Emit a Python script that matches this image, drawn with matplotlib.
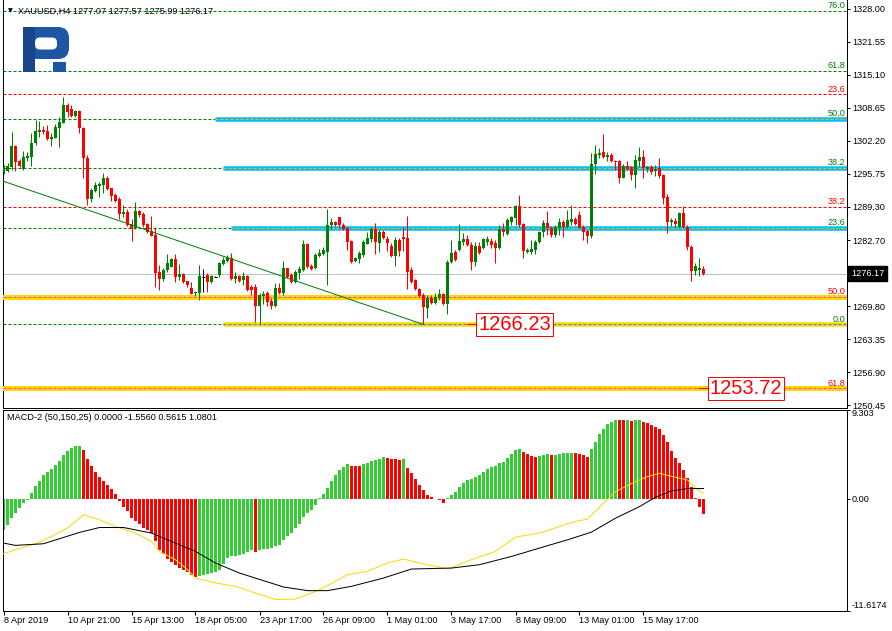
import matplotlib
matplotlib.use("Agg")
import matplotlib.pyplot as plt
import matplotlib.transforms as mtransforms
from matplotlib.patches import Rectangle, FancyBboxPatch
import numpy as np

plt.rcParams['font.family'] = ['Liberation Sans', 'DejaVu Sans']

# ---------------- data ----------------
symbol_header = "XAUUSD,H4 1277.07 1277.57 1275.99 1276.17"
macd_header = "MACD-2 (50,150,25) 0.0000 -1.5560 0.5615 1.0801"

opens = [
    1296.10, 1296.23, 1296.95, 1301.12, 1298.25, 1296.69, 1298.77, 1299.03, 1301.64, 1303.93,
    1304.25, 1303.99, 1302.56, 1302.75, 1304.71, 1305.69, 1309.14, 1308.30, 1307.06, 1307.97,
    1304.58, 1298.71, 1290.75, 1292.25, 1293.29, 1293.49, 1294.86, 1292.90, 1291.53, 1290.75,
    1287.81, 1288.21, 1285.86, 1285.01, 1288.47, 1287.81, 1285.86, 1284.49, 1283.70, 1276.53,
    1275.10, 1276.86, 1277.51, 1279.01, 1275.55, 1276.08, 1274.70, 1273.33, 1272.29, 1272.29,
    1275.55, 1275.88, 1274.51, 1275.55, 1275.81, 1278.03, 1278.62, 1279.21, 1275.16, 1275.68,
    1274.90, 1275.68, 1273.46, 1273.46, 1269.81, 1271.77, 1272.29, 1270.86, 1269.81, 1273.27,
    1272.29, 1277.18, 1275.88, 1274.57, 1276.34, 1276.86, 1281.94, 1277.64, 1277.18, 1279.60,
    1279.99, 1280.44, 1285.66, 1286.31, 1287.16, 1285.66, 1285.01, 1282.53, 1278.62, 1279.01,
    1279.79, 1282.01, 1282.92, 1284.88, 1282.07, 1284.36, 1282.86, 1281.62, 1279.66, 1282.66,
    1283.31, 1283.18, 1276.85, 1274.83, 1273.14, 1271.90, 1269.48, 1271.31, 1270.46, 1271.31,
    1272.16, 1270.20, 1278.36, 1280.44, 1280.70, 1282.40, 1282.92, 1281.75, 1278.36, 1281.62,
    1281.09, 1282.40, 1282.60, 1282.07, 1281.09, 1284.88, 1283.83, 1286.31, 1287.10, 1289.31,
    1285.79, 1280.44, 1280.31, 1280.77, 1282.27, 1284.23, 1285.99, 1285.14, 1283.70, 1285.14,
    1286.31, 1285.33, 1286.31, 1286.84, 1287.62, 1285.33, 1284.49, 1283.57, 1297.53, 1299.36,
    1300.01, 1299.03, 1299.36, 1298.18, 1298.18, 1294.92, 1297.27, 1297.08, 1295.45, 1298.18,
    1299.03, 1296.62, 1297.08, 1296.23, 1296.88, 1295.45, 1291.21, 1286.18, 1286.44, 1285.27,
    1288.01, 1285.33, 1281.42, 1276.72, 1276.85, 1277.07]
highs = [
    1297.40, 1297.86, 1303.86, 1301.25, 1298.51, 1300.08, 1299.95, 1303.60, 1306.21, 1306.08,
    1305.04, 1305.30, 1303.60, 1305.43, 1306.86, 1310.78, 1309.47, 1309.20, 1308.17, 1308.17,
    1304.90, 1299.30, 1292.90, 1294.14, 1294.14, 1295.77, 1295.25, 1293.00, 1291.86, 1291.21,
    1289.58, 1288.86, 1286.90, 1290.10, 1288.60, 1288.14, 1286.12, 1287.42, 1285.34, 1277.83,
    1277.18, 1279.99, 1279.14, 1279.99, 1278.03, 1276.34, 1274.77, 1274.44, 1272.81, 1277.83,
    1277.05, 1276.34, 1275.88, 1275.75, 1278.49, 1279.47, 1279.73, 1280.12, 1276.47, 1275.88,
    1276.53, 1275.88, 1273.92, 1274.05, 1272.29, 1272.81, 1272.68, 1271.38, 1274.25, 1274.25,
    1278.68, 1277.31, 1276.21, 1276.86, 1277.64, 1282.73, 1282.20, 1278.03, 1280.12, 1280.90,
    1281.42, 1288.86, 1286.97, 1286.51, 1287.29, 1285.99, 1285.21, 1282.73, 1279.46, 1280.57,
    1282.73, 1284.36, 1285.33, 1285.99, 1284.68, 1284.62, 1283.51, 1282.07, 1283.38, 1283.05,
    1285.33, 1287.49, 1277.51, 1275.22, 1273.40, 1272.29, 1272.09, 1272.09, 1272.29, 1273.07,
    1272.40, 1278.81, 1282.73, 1280.77, 1285.92, 1284.03, 1283.70, 1282.40, 1282.27, 1282.40,
    1283.05, 1283.57, 1283.05, 1282.73, 1285.66, 1285.99, 1286.97, 1287.49, 1289.57, 1291.53,
    1285.99, 1281.23, 1282.73, 1282.73, 1284.49, 1286.64, 1288.40, 1285.53, 1285.66, 1286.97,
    1286.57, 1288.60, 1289.57, 1287.29, 1288.40, 1285.66, 1284.68, 1299.69, 1301.32, 1300.66,
    1303.47, 1299.88, 1299.69, 1298.38, 1298.38, 1297.53, 1298.18, 1297.27, 1299.36, 1300.93,
    1300.34, 1297.27, 1297.40, 1297.40, 1298.71, 1295.58, 1291.66, 1286.97, 1286.97, 1288.14,
    1289.44, 1285.66, 1281.75, 1278.16, 1279.14, 1277.57]
lows = [
    1295.64, 1295.97, 1296.42, 1296.29, 1297.08, 1296.42, 1298.12, 1297.21, 1301.38, 1302.95,
    1303.40, 1302.30, 1301.19, 1302.62, 1300.99, 1305.56, 1306.86, 1306.86, 1306.86, 1303.73,
    1294.79, 1289.58, 1290.10, 1292.05, 1291.21, 1291.86, 1292.51, 1290.42, 1290.23, 1286.84,
    1287.29, 1285.47, 1282.60, 1284.81, 1287.29, 1285.34, 1284.03, 1283.51, 1273.46, 1272.94,
    1274.77, 1276.53, 1277.38, 1274.57, 1274.90, 1274.38, 1273.59, 1272.10, 1271.77, 1270.99,
    1272.62, 1272.55, 1274.38, 1275.42, 1275.55, 1277.77, 1278.49, 1274.90, 1274.25, 1274.51,
    1273.92, 1272.81, 1272.03, 1266.68, 1266.40, 1270.33, 1269.81, 1269.16, 1269.55, 1272.16,
    1271.90, 1275.23, 1274.25, 1274.38, 1275.16, 1276.73, 1277.18, 1276.86, 1276.99, 1279.34,
    1279.79, 1273.92, 1284.81, 1285.47, 1285.01, 1284.68, 1280.77, 1278.16, 1278.49, 1278.16,
    1279.46, 1281.88, 1282.27, 1279.92, 1280.31, 1282.92, 1280.57, 1279.46, 1277.70, 1279.66,
    1280.57, 1273.07, 1274.25, 1272.88, 1271.64, 1266.23, 1267.53, 1270.33, 1270.33, 1270.98,
    1270.01, 1268.18, 1278.16, 1278.62, 1280.57, 1281.75, 1281.62, 1276.85, 1277.70, 1279.92,
    1280.96, 1281.75, 1281.23, 1278.16, 1280.96, 1283.57, 1283.70, 1285.66, 1285.66, 1285.33,
    1279.27, 1280.12, 1279.92, 1279.92, 1282.07, 1283.31, 1283.70, 1283.38, 1283.38, 1283.70,
    1283.38, 1285.01, 1285.66, 1285.66, 1285.01, 1282.73, 1282.07, 1283.05, 1295.58, 1298.71,
    1298.84, 1298.18, 1298.05, 1296.42, 1293.81, 1294.79, 1296.42, 1294.47, 1292.97, 1297.08,
    1294.79, 1295.97, 1295.58, 1295.32, 1294.92, 1289.70, 1284.03, 1285.53, 1285.33, 1285.01,
    1285.01, 1280.77, 1274.77, 1275.88, 1275.75, 1275.99]
closes = [
    1297.08, 1297.21, 1301.12, 1298.06, 1297.21, 1298.90, 1299.16, 1301.64, 1303.99, 1304.25,
    1303.86, 1302.56, 1302.88, 1304.90, 1305.82, 1309.08, 1307.77, 1307.06, 1307.97, 1304.58,
    1298.71, 1290.75, 1292.58, 1293.49, 1293.68, 1294.86, 1292.71, 1291.34, 1290.42, 1287.81,
    1288.21, 1285.66, 1284.94, 1288.47, 1287.55, 1285.66, 1284.36, 1283.57, 1276.34, 1275.10,
    1276.86, 1278.16, 1279.01, 1275.55, 1276.08, 1274.51, 1273.86, 1272.16, 1272.55, 1275.68,
    1275.55, 1274.51, 1275.68, 1275.55, 1278.29, 1278.81, 1279.47, 1275.10, 1275.68, 1274.77,
    1275.75, 1272.94, 1272.94, 1269.81, 1271.96, 1272.16, 1270.53, 1269.81, 1273.27, 1272.42,
    1277.18, 1275.55, 1274.57, 1276.47, 1276.99, 1281.94, 1277.51, 1277.05, 1279.79, 1280.12,
    1280.77, 1285.66, 1286.25, 1285.66, 1285.66, 1284.81, 1282.40, 1278.49, 1279.27, 1280.12,
    1282.40, 1283.05, 1284.88, 1282.27, 1284.36, 1283.18, 1282.07, 1279.60, 1282.79, 1280.57,
    1282.92, 1276.53, 1274.57, 1273.07, 1271.83, 1269.68, 1271.31, 1270.46, 1271.64, 1272.16,
    1270.20, 1278.49, 1280.25, 1278.81, 1282.53, 1282.92, 1281.75, 1278.36, 1281.62, 1280.12,
    1282.92, 1282.92, 1281.75, 1281.09, 1284.88, 1284.23, 1286.64, 1287.16, 1289.31, 1285.66,
    1280.64, 1280.77, 1280.96, 1282.40, 1284.23, 1285.99, 1285.14, 1283.70, 1285.33, 1286.18,
    1285.33, 1286.64, 1286.77, 1285.79, 1285.14, 1284.36, 1283.57, 1297.53, 1299.56, 1299.69,
    1299.03, 1299.36, 1298.18, 1297.92, 1294.92, 1297.27, 1296.62, 1295.45, 1298.38, 1299.03,
    1296.75, 1297.08, 1296.10, 1296.62, 1295.32, 1291.01, 1286.18, 1286.57, 1285.79, 1288.01,
    1285.27, 1281.42, 1276.72, 1277.70, 1277.31, 1276.17]

macd_hist = [
    -3.29, -2.70, -1.94, -1.42, -0.97, -0.45, -0.10, 0.59, 1.35, 1.90,
    2.46, 2.80, 3.08, 3.49, 3.94, 4.57, 5.02, 5.26, 5.50, 5.54,
    5.09, 4.15, 3.43, 2.84, 2.32, 1.90, 1.45, 1.04, 0.52, -0.20,
    -0.80, -1.31, -2.01, -2.35, -2.60, -2.98, -3.29, -3.56, -4.43, -5.29,
    -5.71, -6.26, -6.61, -6.85, -7.20, -7.37, -7.65, -7.89, -8.13, -8.06,
    -7.96, -7.85, -7.72, -7.61, -7.44, -6.75, -6.16, -5.99, -5.92, -5.81,
    -5.71, -5.57, -5.36, -5.50, -5.29, -5.26, -5.22, -5.12, -4.95, -4.78,
    -4.26, -3.84, -3.56, -3.04, -2.60, -1.90, -1.49, -1.14, -0.62, 0.05,
    0.48, 1.14, 1.90, 2.49, 3.01, 3.36, 3.63, 3.46, 3.39, 3.38,
    3.60, 3.77, 3.94, 4.05, 4.15, 4.33, 4.30, 4.14, 4.10, 4.05,
    4.14, 3.18, 2.73, 2.04, 1.45, 0.93, 0.42, 0.17, 0.02, -0.12,
    -0.38, 0.07, 0.42, 0.76, 1.28, 1.70, 1.97, 2.11, 2.25, 2.49,
    2.80, 3.08, 3.29, 3.43, 3.70, 3.88, 4.22, 4.67, 5.09, 5.19,
    4.91, 4.67, 4.46, 4.39, 4.46, 4.57, 4.67, 4.57, 4.60, 4.67,
    4.74, 4.78, 4.81, 4.78, 4.67, 4.53, 4.33, 5.19, 5.95, 6.71,
    7.27, 7.75, 8.03, 8.22, 8.20, 8.18, 8.20, 8.15, 8.20, 8.22,
    8.03, 7.92, 7.68, 7.51, 7.23, 6.64, 5.88, 5.02, 4.22, 3.70,
    3.01, 2.15, 1.28, 0.08, -0.80, -1.556]

# yellow line (bar index, value)
signal_bars = [0, 3, 8, 12, 16, 20, 22, 24, 28, 33, 37, 39, 43, 46, 48, 53, 58, 63, 68, 73,
               77, 79, 83, 86, 91, 96, 100, 104, 108, 111, 117, 123, 128, 134, 139, 143, 146, 150,
               153, 158, 161, 164, 168, 171, 173, 175]
signal_vals = [-5.71, -5.29, -4.67, -3.91, -3.04, -1.66, -1.90, -2.18, -2.87, -3.56,
               -4.43, -5.47, -6.33, -7.37, -8.24, -8.75, -9.10, -9.79, -10.48, -10.42,
               -9.79, -9.45, -8.58, -7.89, -7.54, -6.68, -6.26, -6.68, -7.02, -7.30,
               -6.33, -5.47, -3.98, -3.56, -2.87, -2.35, -2.11, -0.45, 0.76, 1.80,
               2.32, 2.66, 2.25, 1.97, 1.11, 0.5615]
# black line (bar index, value)
slow_bars = [0, 3, 10, 19, 24, 30, 37, 48, 53, 59, 70, 76, 81, 87, 95, 102, 112, 119, 127, 134,
             141, 147, 153, 159, 163, 167, 171, 175]
slow_vals = [-4.60, -4.84, -4.67, -3.49, -2.98, -2.98, -3.56, -5.47, -6.68, -7.72,
             -9.17, -9.55, -9.55, -9.10, -8.24, -7.30, -7.20, -6.85, -5.99, -5.12,
             -4.26, -3.46, -2.01, -0.80, 0.17, 0.83, 1.07, 1.0801]

price_ticks = [1328.00, 1321.55, 1315.10, 1308.65, 1302.20, 1295.75, 1289.30, 1282.70,
               1269.80, 1263.35, 1256.90, 1250.45]
last_price = 1276.17
macd_ticks = [-11.6174, 0.0, 9.303]
macd_tick_labels = ['-11.6174', '0.00', '9.303']

date_tick_bars = [0, 16, 32, 48, 64, 80, 96, 112, 128, 144, 160]
date_tick_labels = ['8 Apr 2019', '10 Apr 21:00', '15 Apr 13:00', '18 Apr 05:00',
                    '23 Apr 17:00', '26 Apr 09:00', '1 May 01:00', '3 May 17:00',
                    '8 May 09:00', '13 May 01:00', '15 May 17:00']

# Fibonacci set 1 (green labels)
fib1_levels = [1327.60, 1315.86, 1306.50, 1296.91, 1285.17, 1266.23]
fib1_labels = ['76.0', '61.8', '50.0', '38.2', '23.6', '0.0']
fib1_band_from = [None, None, 53, 55, 57, 55]      # bar where the highlighted band starts
# Fibonacci set 2 (red labels)
fib2_levels = [1311.24, 1289.24, 1271.63, 1253.72]
fib2_labels = ['23.6', '38.2', '50.0', '61.8']
fib2_band = [False, False, True, True]

trend_bars = [-1, 105]
trend_prices = [1294.5, 1266.23]

mark_prices = [1266.23, 1253.72]
mark_from_bars = [116.0, 173.6]
mark_text_bars = [127.75, 185.6]

# ---------------- figure ----------------
W, H = 892, 631
PX = 72.0 / 100.0          # points per pixel
FS = 6.6
GREEN = '#008000'
RED = '#FF0000'

fig = plt.figure(figsize=(W / 100, H / 100), dpi=100)


def px_axes(x0, y0, x1, y1, **kw):
    return fig.add_axes([x0 / W, 1 - y1 / H, (x1 - x0) / W, (y1 - y0) / H], **kw)


ax = px_axes(2.5, 0, 847, 407.5)
mx = px_axes(2.5, 409.5, 847, 610.5)

o = np.array(opens); hi = np.array(highs); lo = np.array(lows); c = np.array(closes)
n = len(o)
idx = np.arange(n)
XMIN, XMAX = -0.25, 210.875
ax.set_xlim(XMIN, XMAX)
ax.set_ylim(1249.99, 1329.69)
mx.set_xlim(XMIN, XMAX)
mx.set_ylim(-11.6174, 9.303)

# background levels
ax.axhline(last_price, color='#C0C0C0', lw=PX, zorder=1)
dash = (0, (3, 2))
xr = ax.get_xlim()[1]
for lev, lab, start in zip(fib1_levels, fib1_labels, fib1_band_from):
    ax.axhline(lev, color=GREEN, lw=PX, ls=dash, zorder=2)
    if start is not None:
        if lab == '0.0':
            band, dcol = '#FFD700', '#1E90FF'
        else:
            band, dcol = '#00BFFF', '#FFB000'
        ax.hlines(lev, start, xr, colors=band, lw=4.5 * PX, zorder=3)
        ax.hlines(lev, start, xr, colors=dcol, lw=PX, linestyles=dash, zorder=3.5)
for lev, lab, bnd in zip(fib2_levels, fib2_labels, fib2_band):
    if bnd:
        ax.axhline(lev, color='#FFD700', lw=5 * PX, zorder=3)
        ax.axhline(lev, color='#FF40C0', lw=PX, ls=dash, zorder=3.5)
    else:
        ax.axhline(lev, color=RED, lw=PX, ls=dash, zorder=2)

lab_tr = mtransforms.offset_copy(ax.transData, fig=fig, x=0, y=0.5, units='dots')
for lev, lab in zip(fib1_levels, fib1_labels):
    ax.text(210.5, lev, lab, color=GREEN, fontsize=FS, ha='right', va='bottom',
            transform=lab_tr, zorder=8)
for lev, lab in zip(fib2_levels, fib2_labels):
    ax.text(210.5, lev, lab, color=RED, fontsize=FS, ha='right', va='bottom',
            transform=lab_tr, zorder=8)

# candles
cols = np.where(c > o, GREEN, np.where(c < o, RED, '#000000'))
ax.vlines(idx, lo, hi, colors=cols, lw=PX, zorder=5)
ax.bar(idx, np.abs(c - o), bottom=np.minimum(o, c), width=0.75, color=cols,
       linewidth=0, zorder=6)
doji = c == o
ax.hlines(c[doji], idx[doji] - 0.375, idx[doji] + 0.375, colors='#000000', lw=PX, zorder=6)

# trend line
ax.plot(trend_bars, trend_prices, color=GREEN, lw=PX, zorder=7)

# price marks
for p, fb, tb in zip(mark_prices, mark_from_bars, mark_text_bars):
    ax.hlines(p, fb, tb, colors=RED, lw=PX, zorder=8)
    ax.text(tb, p, f'{p:.2f}', color=RED, fontsize=14.5, ha='center', va='center',
            family=['Liberation Sans'], zorder=9,
            bbox=dict(boxstyle='square,pad=0.1', fc='white', ec=RED, lw=PX))

# axes styling main
ax.set_xticks([])
ax.yaxis.tick_right()
ax.set_yticks(price_ticks)
ax.set_yticklabels([f'{v:.2f}' for v in price_ticks])
ax.tick_params(axis='y', length=3 * PX, width=PX, pad=2 * PX, labelsize=FS, colors='black')
for s in ['left', 'right', 'bottom']:
    ax.spines[s].set_linewidth(PX)
ax.spines['top'].set_visible(False)

# current price label
cur_tr = mtransforms.offset_copy(
    mtransforms.blended_transform_factory(ax.transAxes, ax.transData),
    fig=fig, x=4, y=0, units='dots')
ax.text(1.0, last_price, f'{last_price:.2f}', transform=cur_tr, color='white',
        fontsize=FS, ha='left', va='center', clip_on=False, zorder=10,
        bbox=dict(boxstyle='square,pad=0.32', fc='black', ec='black'))

# MACD panel
hv = np.array(macd_hist)
hcols = ['#32CD32' if (i == 0 or hv[i] > hv[i - 1]) else RED for i in range(len(hv))]
mx.bar(np.arange(len(hv)), hv, width=0.75, color=hcols, linewidth=0, zorder=2)
mx.plot(signal_bars, signal_vals, color='#FFD700', lw=PX, zorder=3)
mx.plot(slow_bars, slow_vals, color='black', lw=PX, zorder=4)

mx.yaxis.tick_right()
mx.set_yticks(macd_ticks)
mx.set_yticklabels(macd_tick_labels)
mx.tick_params(axis='y', length=3 * PX, width=PX, pad=2 * PX, labelsize=FS)
ylabs = mx.get_yticklabels()
ylabs[0].set_va('bottom')
ylabs[2].set_va('top')
mx.set_xticks(date_tick_bars)
mx.set_xticklabels(date_tick_labels, ha='left')
mx.tick_params(axis='x', length=4 * PX, width=PX, pad=1, labelsize=FS)
for s in mx.spines.values():
    s.set_linewidth(PX)

# headers
fig.text(8 / W, 1 - 10.5 / H, '\u25BC', fontsize=4.5, family='DejaVu Sans',
         va='center', ha='left')
fig.text(18 / W, 1 - 11 / H, symbol_header, fontsize=FS, va='center', ha='left')
fig.text(7 / W, 1 - 418 / H, macd_header, fontsize=FS, va='center', ha='left')

# logo overlay
ov = fig.add_axes([0, 0, 1, 1], zorder=20)
ov.set_xlim(0, W)
ov.set_ylim(H, 0)
ov.axis('off')
ov.patch.set_alpha(0)
blue_a = '#1D56A3'
blue_b = '#17478A'
ov.add_patch(FancyBboxPatch((23, 27), 46, 32, boxstyle='round,pad=0,rounding_size=11',
                            fc=blue_a, ec='none'))
ov.add_patch(FancyBboxPatch((35, 37.5), 22, 12, boxstyle='round,pad=0,rounding_size=5',
                            fc='white', ec='none'))
ov.add_patch(Rectangle((23, 27), 12, 45, fc=blue_b, ec='none'))
ov.add_patch(Rectangle((53, 61.5), 13, 10.5, fc=blue_a, ec='none'))

fig.savefig('out.png', dpi=100)
